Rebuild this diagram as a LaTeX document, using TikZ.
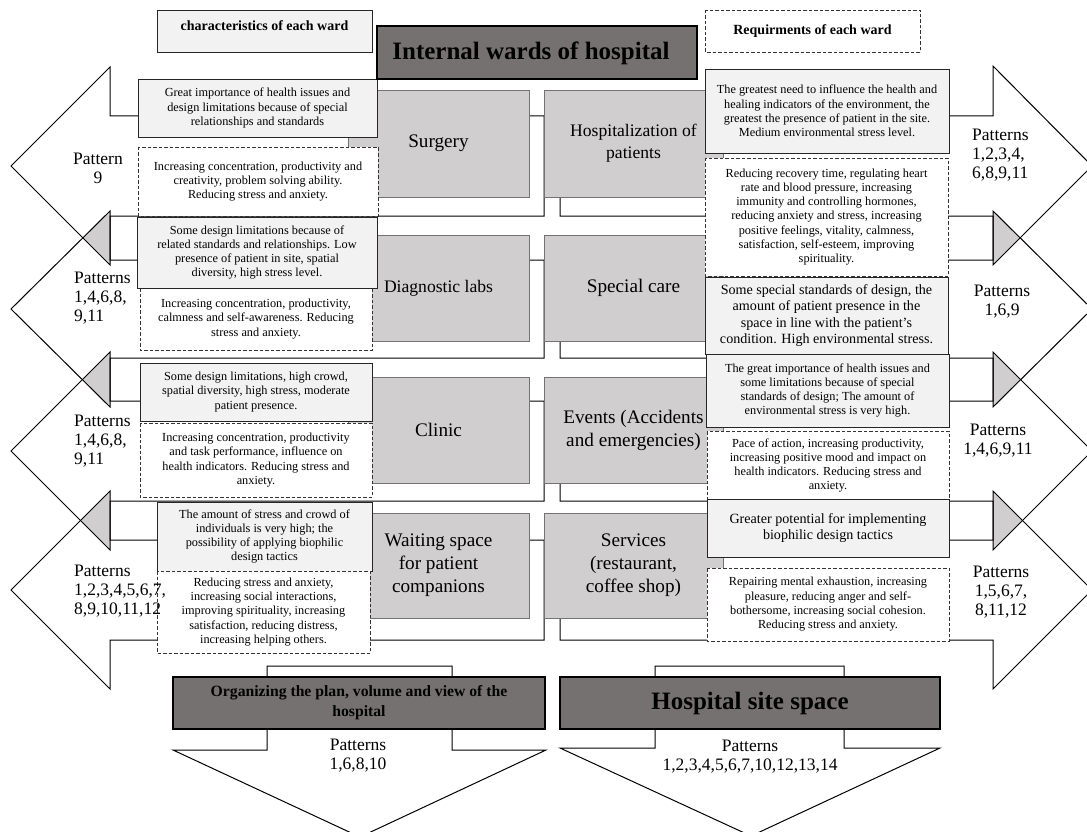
\documentclass[tikz,border=0pt]{standalone}
\usepackage{fontspec}
\setmainfont{Liberation Serif}
\definecolor{lightbox}{HTML}{F2F2F2}
\definecolor{wardgray}{HTML}{D0CECE}
\definecolor{darkbox}{HTML}{767171}
\tikzset{
  arrowline/.style={draw=black, line width=1pt, line join=miter},
  graybox/.style={draw=black!85, line width=0.8pt, fill=lightbox},
  dashbox/.style={draw=black!80, line width=0.6pt, dash pattern=on 3.5pt off 2pt, fill=white},
  wardbox/.style={draw=black!55, line width=0.7pt, fill=wardgray},
  darkrect/.style={draw=black, line width=1.3pt, fill=darkbox},
  smalltext/.style={font=\fontsize{12.3}{14.3}\selectfont, align=center, inner sep=0pt},
  midtext/.style={font=\fontsize{14.1}{16.4}\selectfont, align=center, inner sep=0pt},
  wardtext/.style={font=\fontsize{19.2}{23}\selectfont, align=center, inner sep=0pt},
  wardtextsm/.style={font=\fontsize{17.6}{22}\selectfont, align=center, inner sep=0pt},
  pattext/.style={font=\fontsize{17.5}{19}\selectfont, inner sep=0pt},
  headtext/.style={font=\fontsize{14}{16}\selectfont\bfseries, inner sep=0pt},
  titletext/.style={font=\fontsize{25}{28}\selectfont\bfseries, inner sep=0pt},
  orgtext/.style={font=\fontsize{15.7}{20}\selectfont\bfseries, align=center, inner sep=0pt},
}
% name, box style, text style, x1, y1, x2, y2, text
\newcommand\tbox[8]{%
  \path[#2] (#4,#5) rectangle (#6,#7);
  \begin{scope}
    \clip (#4,#5) rectangle (#6,#7);
    \node[#3] (#1) at ({(#4+#6)/2},{(#5+#7)/2}) {#8};
  \end{scope}
}
% overlap of two heads: xbase, xtip, c1, hb1, c2, ht2
\newcommand\gtri[6]{%
  \fill[wardgray] (#1,#6) -- (intersection of #2,#3--#1,#4 and #2,#5--#1,#6) -- (#1,#4) -- cycle;}
% left arrow: st, ht, c, sb, hb
\newcommand\larrow[5]{%
  \draw[arrowline] (544,#1) -- (110,#1) -- (110,#2) -- (11,#3) -- (110,#5) -- (110,#4) -- (544,#4) -- cycle;}
\newcommand\rarrow[5]{%
  \draw[arrowline] (560,#1) -- (993,#1) -- (993,#2) -- (1092,#3) -- (993,#5) -- (993,#4) -- (560,#4) -- cycle;}
\begin{document}
\begin{tikzpicture}[x=1pt,y=-1pt]
\useasboundingbox (0,0) rectangle (1087,832);
\fill[white] (0,0) rectangle (1087,832);

\begin{scope}
\clip (0,0) rectangle (1087,832);
% overlaps of neighbouring heads
\gtri{110}{11}{166}{265}{309}{211}
\gtri{110}{11}{309}{407}{451}{352}
\gtri{110}{11}{451}{550}{590}{491}
\gtri{993}{1092}{166}{265}{309}{211}
\gtri{993}{1092}{309}{407}{451}{352}
\gtri{993}{1092}{451}{550}{590}{491}
% horizontal block arrows
\larrow{116}{67}{166}{216}{265}
\larrow{260}{211}{309}{358}{407}
\larrow{401}{352}{451}{501}{550}
\larrow{540}{491}{590}{640}{689}
\rarrow{116}{66}{166}{216}{265}
\rarrow{260}{211}{309}{358}{407}
\rarrow{401}{352}{451}{501}{550}
\rarrow{540}{491}{590}{640}{689}
% down arrows
\draw[arrowline] (267,666) -- (452,666) -- (452,750) -- (546,750) -- (360,837) -- (173,750) -- (267,750) -- cycle;
\draw[arrowline] (655,666) -- (844,666) -- (844,748) -- (940,748) -- (751,836) -- (560,748) -- (655,748) -- cycle;
\end{scope}

% wards
\tbox{surgery}{wardbox}{wardtext}{348}{90}{529}{197}{Surgery}
\tbox{hosp}{wardbox}{wardtextsm}{544}{90}{723}{197}{Hospitalization of\\patients}
\tbox{diag}{wardbox}{wardtextsm}{348}{235}{529}{341}{Diagnostic labs}
\tbox{special}{wardbox}{wardtext}{544}{235}{723}{341}{Special care}
\tbox{clinic}{wardbox}{wardtext}{348}{377}{529}{483}{Clinic}
\tbox{events}{wardbox}{wardtext}{544}{377}{723}{483}{Events (Accidents\\and emergencies)}
\tbox{waiting}{wardbox}{wardtext}{348}{513}{529}{618}{Waiting space\\for patient\\companions}
\tbox{services}{wardbox}{wardtext}{544}{513}{723}{618}{Services\\(restaurant,\\coffee shop)}

% left text boxes
\tbox{lag}{graybox}{smalltext}{138}{79}{377}{137}{Great importance of health issues and\\design limitations because of special\\relationships and standards}
\tbox{lad}{dashbox}{smalltext}{138}{147}{378}{216}{Increasing concentration, productivity and\\creativity, problem solving ability.\\Reducing stress and anxiety.}
\tbox{lbd}{dashbox}{smalltext}{140}{288}{372}{350}{Increasing concentration, productivity,\\calmness and self-awareness. Reducing\\stress and anxiety.}
\tbox{lbg}{graybox}{smalltext}{137}{217}{377}{288}{Some design limitations because of\\related standards and relationships. Low\\presence of patient in site, spatial\\diversity, high stress level.}
\tbox{lcg}{graybox}{smalltext}{140}{363}{372}{421}{Some design limitations, high crowd,\\spatial diversity, high stress, moderate\\patient presence.}
\tbox{lcd}{dashbox}{smalltext}{140}{423}{372}{497}{Increasing concentration, productivity\\and task performance, influence on\\health indicators. Reducing stress and\\anxiety.}
\tbox{ldg}{graybox}{smalltext}{157}{502}{372}{571}{The amount of stress and crowd of\\individuals is very high; the\\possibility of applying biophilic\\design tactics}
\tbox{ldd}{dashbox}{smalltext}{157}{571}{370}{653}{Reducing stress and anxiety,\\increasing social interactions,\\improving spirituality, increasing\\satisfaction, reducing distress,\\increasing helping others.}

% right text boxes
\tbox{rag}{graybox}{smalltext}{705}{69}{949}{153}{The greatest need to influence the health and\\healing indicators of the environment, the\\greatest the presence of patient in the site.\\Medium environmental stress level.}
\tbox{rad}{dashbox}{smalltext}{705}{158}{948}{276}{Reducing recovery time, regulating heart\\rate and blood pressure, increasing\\immunity and controlling hormones,\\reducing anxiety and stress, increasing\\positive feelings, vitality, calmness,\\satisfaction, self-esteem, improving\\spirituality.}
\tbox{rbg}{graybox}{midtext}{705}{277}{948}{354}{Some special standards of design, the\\amount of patient presence in the\\space in line with the patient's\\condition. High environmental stress.}
\tbox{rcg}{graybox}{smalltext}{706}{354}{949}{427}{The great importance of health issues and\\some limitations because of special\\standards of design; The amount of\\environmental stress is very high.}
\tbox{rcd}{dashbox}{smalltext}{707}{431}{949}{500}{Pace of action, increasing productivity,\\increasing positive mood and impact on\\health indicators. Reducing stress and\\anxiety.}
\tbox{rdg}{graybox}{midtext}{707}{499}{949}{557}{Greater potential for implementing\\biophilic design tactics}
\tbox{rdd}{dashbox}{smalltext}{707}{568}{949}{641}{Repairing mental exhaustion, increasing\\pleasure, reducing anger and self-\\bothersome, increasing social cohesion.\\Reducing stress and anxiety.}

% headers
\path[graybox] (157,10) rectangle (372,52);
\node[headtext] (charhead) at (264.5,26) {characteristics of each ward};
\path[dashbox] (705,10) rectangle (920,52);
\node[headtext] (reqhead) at (812.5,31) {Requirments of each ward};
\path[darkrect] (377,26) rectangle (697,79);
\node[titletext] (internal) at (531,53) {Internal wards of hospital};

% bottom boxes
\path[darkrect] (173,677) rectangle (545,729);
\node[orgtext] (organizing) at (359,703) {Organizing the plan, volume and view of the\\hospital};
\path[darkrect] (560,677) rectangle (940,729);
\node[titletext] (site) at (750,703) {Hospital site space};

% pattern labels
\node[pattext, align=center] (lp1) at (98,168) {Pattern\\9};
\node[pattext, align=left, anchor=west] (lp2) at (74,298) {Patterns\\1,4,6,8,\\9,11};
\node[pattext, align=left, anchor=west] (lp3) at (74,441) {Patterns\\1,4,6,8,\\9,11};
\node[pattext, align=left, anchor=west] (lp4) at (74,591) {Patterns\\1,2,3,4,5,6,7,\\8,9,10,11,12};
\node[pattext, align=left, anchor=west] (rp1) at (972,155) {Patterns\\1,2,3,4,\\6,8,9,11};
\node[pattext, align=center] (rp2) at (1002,302) {Patterns\\1,6,9};
\node[pattext, align=center] (rp3) at (998,441) {Patterns\\1,4,6,9,11};
\node[pattext, align=center] (rp4) at (1001,592) {Patterns\\1,5,6,7,\\8,11,12};
\node[pattext, align=center] (bp1) at (358,756) {Patterns\\1,6,8,10};
\node[pattext, align=center] (bp2) at (750,757) {Patterns\\1,2,3,4,5,6,7,10,12,13,14};
\end{tikzpicture}
\end{document}
